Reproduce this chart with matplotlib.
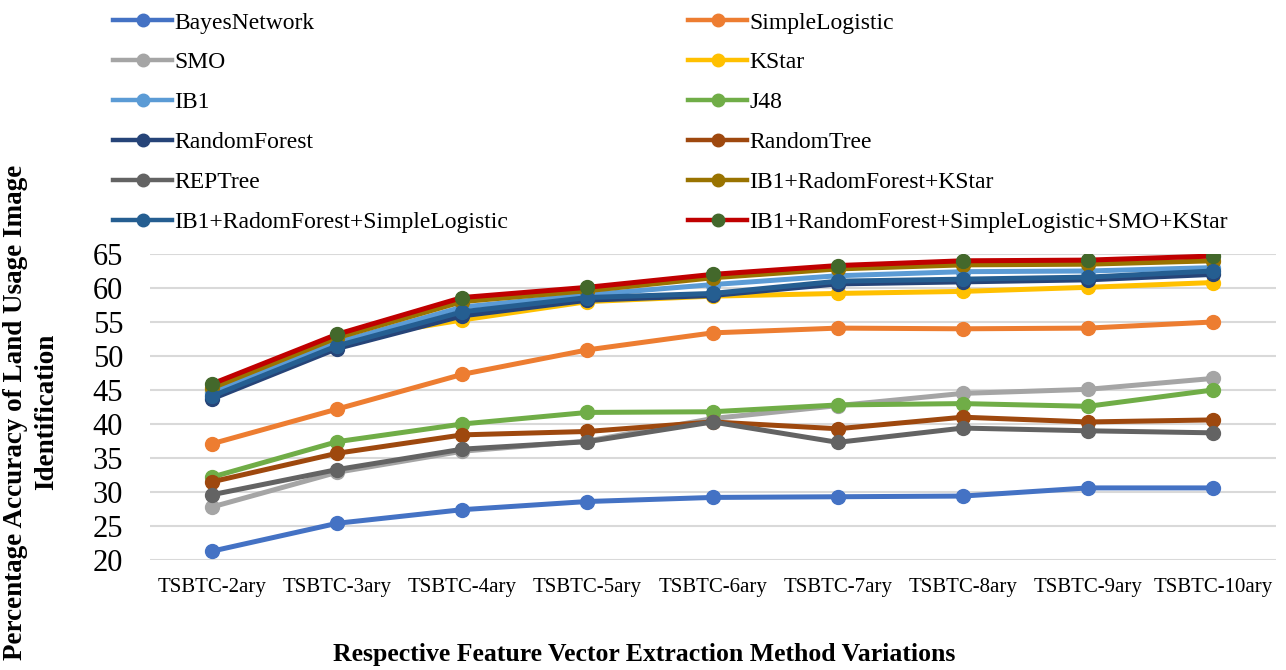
import matplotlib.pyplot as plt
from matplotlib.lines import Line2D

categories = ["TSBTC-2ary", "TSBTC-3ary", "TSBTC-4ary", "TSBTC-5ary", "TSBTC-6ary",
              "TSBTC-7ary", "TSBTC-8ary", "TSBTC-9ary", "TSBTC-10ary"]

bayes_network = [21.3, 25.4, 27.4, 28.6, 29.2, 29.3, 29.4, 30.6, 30.6]
simple_logistic = [37.1, 42.2, 47.3, 50.9, 53.4, 54.1, 54.0, 54.1, 55.0]
smo = [27.8, 32.9, 36.0, 37.5, 40.8, 42.7, 44.5, 45.1, 46.7]
kstar = [44.8, 52.3, 55.3, 58.0, 58.8, 59.2, 59.5, 60.1, 60.8]
ib1 = [44.6, 52.0, 57.2, 59.0, 60.5, 61.8, 62.4, 62.5, 63.0]
j48 = [32.2, 37.4, 40.0, 41.7, 41.8, 42.8, 43.0, 42.6, 45.0]
random_forest = [43.7, 51.1, 55.9, 58.2, 58.9, 60.6, 60.9, 61.2, 62.0]
random_tree = [31.5, 35.7, 38.4, 38.9, 40.3, 39.3, 41.0, 40.3, 40.6]
rep_tree = [29.6, 33.3, 36.3, 37.4, 40.3, 37.3, 39.4, 39.0, 38.7]
ib1_rf_kstar = [45.3, 52.7, 58.0, 59.6, 61.5, 62.8, 63.4, 63.5, 64.0]
ib1_rf_sl = [44.1, 51.5, 56.5, 58.6, 59.2, 61.0, 61.3, 61.6, 62.5]
ib1_rf_sl_smo_kstar = [45.9, 53.2, 58.6, 60.1, 62.0, 63.3, 64.0, 64.1, 64.7]

series = [
    ("BayesNetwork", bayes_network, "#4472C4", "#4472C4"),
    ("SimpleLogistic", simple_logistic, "#ED7D31", "#ED7D31"),
    ("SMO", smo, "#A5A5A5", "#A5A5A5"),
    ("KStar", kstar, "#FFC000", "#FFC000"),
    ("IB1", ib1, "#5B9BD5", "#5B9BD5"),
    ("J48", j48, "#70AD47", "#70AD47"),
    ("RandomForest", random_forest, "#264478", "#264478"),
    ("RandomTree", random_tree, "#9E480E", "#9E480E"),
    ("REPTree", rep_tree, "#636363", "#636363"),
    ("IB1+RadomForest+KStar", ib1_rf_kstar, "#997300", "#997300"),
    ("IB1+RadomForest+SimpleLogistic", ib1_rf_sl, "#255E91", "#255E91"),
    ("IB1+RandomForest+SimpleLogistic+SMO+KStar", ib1_rf_sl_smo_kstar, "#C00000", "#43682B"),
]

serif = "Liberation Serif"

fig = plt.figure(figsize=(12.86, 6.70), dpi=100)
ax = fig.add_axes([0.1163, 0.1642, 0.8756, 0.4567])

x = list(range(len(categories)))
handles = []
for name, vals, lc, mc in series:
    ax.plot(x, vals, color=lc, linewidth=3.6, marker="o", markersize=10,
            markerfacecolor=mc, markeredgecolor=mc, solid_capstyle="round")
    handles.append(Line2D([], [], color=lc, linewidth=3.2, marker="o", markersize=9,
                          markerfacecolor=mc, markeredgecolor=mc, label=name))

ax.set_xlim(-0.5, len(categories) - 0.5)
ax.set_ylim(20, 65)
ax.set_yticks(range(20, 66, 5))
ax.set_xticks(x)
ax.set_xticklabels(categories, fontfamily=serif, fontsize=15)
for lab in ax.get_yticklabels():
    lab.set_fontfamily(serif)
    lab.set_fontsize(22)
ax.tick_params(axis="both", length=0)
ax.tick_params(axis="y", pad=19)
ax.tick_params(axis="x", pad=13)
ax.grid(axis="y", color="#D9D9D9", linewidth=1.5)
ax.set_axisbelow(True)
for s in ax.spines.values():
    s.set_visible(False)

# legend: two columns, laid out separately
left_col = [handles[i] for i in (0, 2, 4, 6, 8, 10)]
right_col = [handles[i] for i in (1, 3, 5, 7, 9, 11)]
legend_kw = dict(loc="upper left", frameon=False, borderpad=0, borderaxespad=0,
                 handlelength=2.5, handletextpad=0.1, labelspacing=0.78,
                 numpoints=1, prop={"family": serif, "size": 17})
fig.legend(handles=left_col, bbox_to_anchor=(113 / 1286, 1 - 12 / 670), **legend_kw)
fig.legend(handles=right_col, bbox_to_anchor=(688 / 1286, 1 - 12 / 670), **legend_kw)

fig.text(31 / 1286, 1 - 412 / 670,
         "Percentage Accuracy of Land Usage Image\nIdentification",
         rotation=90, ha="center", va="center", fontfamily=serif,
         fontweight="bold", fontsize=19.5, linespacing=1.3)
fig.text(644 / 1286, 1 - 655 / 670,
         "Respective Feature Vector Extraction Method Variations",
         ha="center", va="center", fontfamily=serif, fontweight="bold", fontsize=18.5)

fig.savefig("out.png", dpi=100)
